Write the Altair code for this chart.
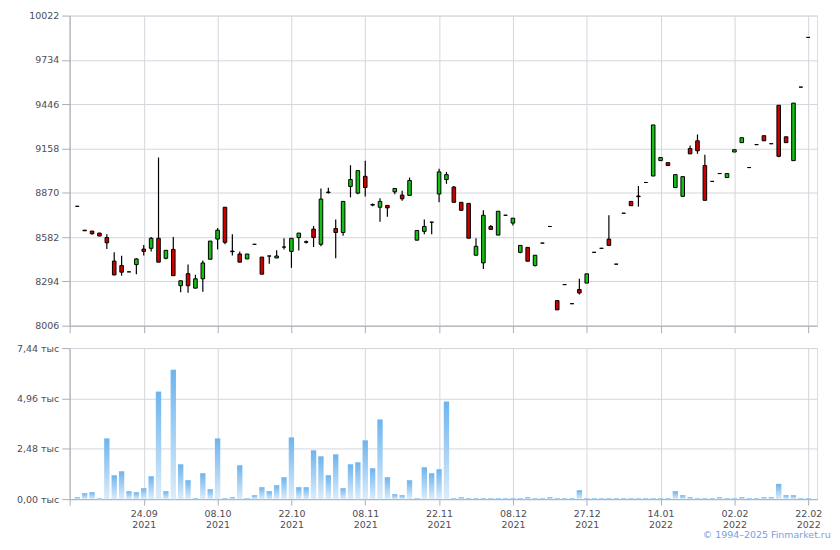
import altair as alt
import pandas as pd

# ---- data ----
opens = [8782, 8627, 8621, 8608, 8579, 8426, 8397, 8356, 8403, 8504,
         8509, 8574, 8444, 8502, 8266, 8344, 8250, 8311, 8438, 8569,
         8776, 8491, 8472, 8440, 8535, 8452, 8459, 8446, 8517, 8489,
         8579, 8552, 8634, 8535, 8875, 8638, 8612, 8911, 8868, 8977,
         8794, 8776, 8788, 8876, 8855, 8853, 8562, 8619, 8679, 8862,
         8956, 8907, 8808, 8801, 8464, 8414, 8651, 8595, 8724, 8673,
         8483, 8515, 8397, 8543, 8651, 8169, 8273, 8149, 8241, 8283,
         8483, 8509, 8569, 8406, 8737, 8814, 8849, 8937, 8979, 9079,
         9066, 8904, 8847, 9158, 9208, 9047, 8944, 8995, 8969, 9135,
         9196, 9034, 9183, 9241, 9189, 9439, 9234, 9079, 9557, 9880]
highs = [8782, 8628, 8621, 8610, 8601, 8484, 8460, 8356, 8445, 8530,
         8582, 9099, 8496, 8582, 8298, 8404, 8337, 8430, 8556, 8640,
         8776, 8601, 8489, 8472, 8535, 8452, 8459, 8496, 8574, 8574,
         8608, 8560, 8654, 8898, 8902, 8696, 8814, 9049, 9014, 9079,
         8800, 8834, 8788, 8898, 8883, 8969, 8625, 8696, 8679, 9027,
         9006, 8914, 8808, 8801, 8575, 8756, 8660, 8750, 8724, 8705,
         8528, 8515, 8464, 8543, 8651, 8169, 8273, 8149, 8311, 8343,
         8483, 8509, 8724, 8406, 8737, 8814, 8914, 8937, 9311, 9099,
         9066, 8988, 8975, 9177, 9249, 9118, 8944, 8995, 8995, 9150,
         9228, 9034, 9183, 9241, 9189, 9439, 9234, 9453, 9557, 9880]
lows = [8782, 8622, 8597, 8587, 8504, 8334, 8331, 8356, 8341, 8463,
        8489, 8419, 8438, 8331, 8224, 8220, 8250, 8227, 8438, 8502,
        8535, 8463, 8419, 8440, 8535, 8341, 8408, 8446, 8502, 8382,
        8494, 8540, 8517, 8522, 8866, 8444, 8591, 8840, 8860, 8846,
        8782, 8682, 8715, 8860, 8818, 8853, 8562, 8601, 8601, 8808,
        8928, 8808, 8756, 8575, 8464, 8375, 8632, 8595, 8724, 8657,
        8477, 8425, 8390, 8543, 8651, 8109, 8273, 8149, 8209, 8283,
        8483, 8509, 8528, 8406, 8737, 8786, 8780, 8937, 8979, 9079,
        9047, 8904, 8847, 9123, 9123, 8821, 8944, 8995, 8969, 9135,
        9196, 9034, 9183, 9208, 9189, 9101, 9196, 9079, 9557, 9880]
closes = [8782, 8623, 8604, 8589, 8545, 8336, 8354, 8356, 8440, 8489,
          8574, 8419, 8496, 8331, 8298, 8266, 8311, 8414, 8556, 8627,
          8548, 8487, 8419, 8472, 8535, 8341, 8459, 8459, 8517, 8574,
          8608, 8548, 8579, 8829, 8871, 8612, 8814, 8956, 9014, 8904,
          8790, 8814, 8772, 8898, 8831, 8950, 8625, 8651, 8679, 9006,
          8988, 8808, 8756, 8575, 8522, 8724, 8632, 8750, 8724, 8705,
          8528, 8425, 8464, 8543, 8651, 8109, 8273, 8149, 8219, 8343,
          8483, 8509, 8528, 8406, 8737, 8786, 8845, 8937, 9311, 9099,
          9047, 8988, 8975, 9123, 9143, 8821, 8944, 8995, 8995, 9150,
          9228, 9034, 9183, 9208, 9189, 9107, 9196, 9453, 9557, 9880]
volumes = [98, 294, 343, 49, 2992, 1177, 1373, 392, 343, 540,
           1128, 5297, 392, 6377, 1717, 932, 49, 1275, 490, 2992,
           49, 98, 1668, 49, 196, 589, 392, 687, 1079, 3041,
           589, 589, 2403, 2109, 1177, 2207, 540, 1717, 1815, 2894,
           1521, 3924, 1079, 245, 196, 932, 49, 1570, 1275, 1472,
           4807, 49, 98, 49, 49, 49, 49, 49, 49, 49,
           49, 98, 49, 49, 98, 49, 49, 49, 441, 49,
           49, 49, 49, 49, 49, 49, 49, 49, 49, 49,
           49, 392, 196, 98, 49, 49, 49, 98, 49, 49,
           98, 49, 49, 98, 98, 752, 196, 196, 49, 49]

tick_idx = [9, 19, 29, 39, 49, 59, 69, 79, 89, 99]
tick_day = ["24.09", "08.10", "22.10", "08.11", "22.11", "08.12", "27.12", "14.01", "02.02", "22.02"]
tick_year = ["2021", "2021", "2021", "2021", "2021", "2021", "2021", "2022", "2022", "2022"]

price_ticks = [8006, 8294, 8582, 8870, 9158, 9446, 9734, 10022]
vol_ticks = [0, 2480, 4960, 7440]

df = pd.DataFrame({
    "i": list(range(len(opens))),
    "open": opens, "high": highs, "low": lows, "close": closes,
    "volume": volumes,
})
df["dir"] = ["up" if c > o else ("down" if c < o else "flat") for o, c in zip(opens, closes)]

FONT = "DejaVu Sans"
LABEL_COLOR = "#4d4d55"
GRID = "#d3d7dc"
DOMAIN = "#a9adb5"

xmin = -1.04
xdom = [xmin, 100.2]
xscale = alt.Scale(domain=xdom, nice=False, zero=False, padding=0)
W = 752

base = alt.Chart(df)

price_x_axis = alt.Axis(values=[xmin] + tick_idx, labels=False, title=None,
                        tickSize=7, tickColor=DOMAIN, domainColor=DOMAIN,
                        gridColor=GRID, grid=True)
price_y_axis = alt.Axis(values=price_ticks, title=None, tickSize=8, tickColor=DOMAIN,
                        domainColor=DOMAIN, gridColor=GRID, labelPadding=3, format="d",
                        labelColor=LABEL_COLOR, labelFont=FONT, labelFontSize=9.5)
yscale = alt.Scale(domain=[8006, 10022], nice=False, zero=False, padding=0)

wicks = base.mark_rule(color="black", strokeWidth=1.2).encode(
    x=alt.X("i:Q", scale=xscale, axis=price_x_axis),
    y=alt.Y("low:Q", scale=yscale, axis=price_y_axis),
    y2="high:Q",
)
bodies = base.mark_bar(size=3.6, stroke="black", strokeWidth=1).encode(
    x=alt.X("i:Q", scale=xscale),
    y=alt.Y("open:Q", scale=yscale),
    y2="close:Q",
    color=alt.Color("dir:N", scale=alt.Scale(domain=["up", "down", "flat"],
                                             range=["#14c014", "#cc0000", "#000000"]),
                    legend=None),
)
price = alt.layer(wicks, bodies).properties(width=W, height=312)

days_js = "[" + ",".join("'%s'" % d for d in tick_day) + "]"
years_js = "[" + ",".join("'%s'" % y for y in tick_year) + "]"
x_label_expr = ("datum.value < 0 ? '' : [%s[round((datum.value-9)/10)], %s[round((datum.value-9)/10)]]"
                % (days_js, years_js))

vol_x_axis = alt.Axis(values=[xmin] + tick_idx, title=None, labelExpr=x_label_expr,
                      tickSize=6, tickColor=DOMAIN, domainColor=DOMAIN, gridColor=GRID,
                      labelColor=LABEL_COLOR, labelFont=FONT, labelFontSize=9.5,
                      labelLineHeight=12, labelPadding=3, labelFlush=False,
                      labelOverlap=False)
vol_y_axis = alt.Axis(values=vol_ticks, title=None, tickSize=8, tickColor=DOMAIN,
                      domainColor=DOMAIN, gridColor=GRID, labelPadding=3,
                      labelColor=LABEL_COLOR, labelFont=FONT, labelFontSize=9.5,
                      labelExpr="replace(format(datum.value/1000, '.2f'), '.', ',') + ' тыс'")

grad = alt.LinearGradient(
    gradient="linear",
    stops=[alt.GradientStop(color="#6db4ee", offset=0),
           alt.GradientStop(color="#dcedfb", offset=1)],
    x1=0, x2=0, y1=0, y2=1,
)
volume = base.mark_bar(size=5.4, color=grad).encode(
    x=alt.X("i:Q", scale=xscale, axis=vol_x_axis),
    y=alt.Y("volume:Q", scale=alt.Scale(domain=[0, 7440], nice=False, padding=0), axis=vol_y_axis),
).properties(
    width=W, height=152,
    title=alt.TitleParams("© 1994–2025 Finmarket.ru", orient="bottom", anchor="end",
                          font=FONT, fontSize=9.5, fontWeight="normal", color="#7a9de0",
                          offset=1, dx=9),
)

chart = alt.vconcat(price, volume, spacing=8.5).properties(
    padding={"left": 8, "top": 0, "right": 0, "bottom": 0}
).configure_view(stroke=None).configure(background="white")

chart.save("out.html", embed_options={"renderer": "svg", "actions": False})
